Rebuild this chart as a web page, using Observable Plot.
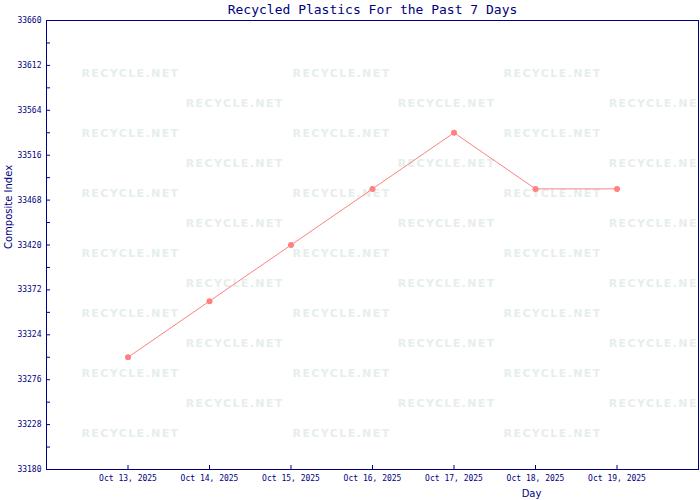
<!DOCTYPE html>
<html>
<head>
<meta charset="utf-8">
<script src="https://cdn.jsdelivr.net/npm/d3@7"></script>
<script src="https://cdn.jsdelivr.net/npm/@observablehq/plot@0.6"></script>
<style>
  html, body { margin: 0; padding: 0; background: #ffffff; }
</style>
</head>
<body>
<div id="chart"></div>
<script>
const title = "Recycled Plastics For the Past 7 Days";
const xLabel = "Day";
const yLabel = "Composite Index";
const days = ["Oct 13, 2025", "Oct 14, 2025", "Oct 15, 2025", "Oct 16, 2025", "Oct 17, 2025", "Oct 18, 2025", "Oct 19, 2025"];
const values = [33300, 33360, 33420, 33480, 33540, 33480, 33480];
const yTicks = [33180, 33228, 33276, 33324, 33372, 33420, 33468, 33516, 33564, 33612, 33660];
const yMinorTicks = [33204, 33252, 33300, 33348, 33396, 33444, 33492, 33540, 33588, 33636];

const data = days.map((d, i) => ({pos: i + 1, day: d, value: values[i]}));
const positions = data.map(d => d.pos);

// faint background watermark grid (decoration)
const watermark = [];
for (let r = 0; r < 13; r++) {
  const cols = r % 2 === 0 ? [1.03, 3.62, 6.21] : [2.31, 4.91, 7.50];
  for (const c of cols) watermark.push({x: c, y: 33603.5 - 32.07 * r});
}

const navy = "#000080";
const lineColor = "#ff8080";

const chart = Plot.plot({
  width: 700,
  height: 500,
  marginTop: 20,
  marginRight: 2,
  marginBottom: 31,
  marginLeft: 46,
  x: {type: "linear", domain: [0, 8]},
  y: {domain: [33180, 33660]},
  style: {fontFamily: "DejaVu Sans Mono", fontSize: "8px", background: "#ffffff", color: navy},
  marks: [
    Plot.text(watermark, {x: "x", y: "y", text: () => "RECYCLE.NET", fill: "#e6eeec",
      fontFamily: "DejaVu Sans", fontWeight: "bold", fontSize: 11, clip: "frame",
      render: (index, scales, values, dims, ctx, next) => {
        const g = next(index, scales, values, dims, ctx);
        g.setAttribute("letter-spacing", "1.4px");
        return g;
      }}),
    Plot.frame({stroke: navy}),
    Plot.axisY({ticks: yTicks, tickSize: -4, tickPadding: 9, tickFormat: d => String(d), label: null}),
    Plot.axisY({ticks: yMinorTicks, tickSize: -4, tickFormat: () => "", label: null}),
    Plot.axisX({ticks: positions, tickSize: -4, tickPadding: 10, tickFormat: p => days[p - 1], label: null}),
    Plot.line(data, {x: "pos", y: "value", stroke: lineColor, strokeWidth: 1}),
    Plot.dot(data, {x: "pos", y: "value", r: 3, fill: lineColor}),
    Plot.text([title], {frameAnchor: "top", lineAnchor: "middle", dy: -11, fontSize: 13, fill: navy}),
    Plot.text([yLabel], {frameAnchor: "left", rotate: -90, dx: -38, dy: 4, fontFamily: "DejaVu Sans", fontSize: 10, fill: navy}),
    Plot.text([xLabel], {frameAnchor: "bottom", lineAnchor: "middle", dx: 159, dy: 24, fontFamily: "DejaVu Sans", fontSize: 10, fill: navy})
  ]
});

document.getElementById("chart").appendChild(chart);
</script>
</body>
</html>
